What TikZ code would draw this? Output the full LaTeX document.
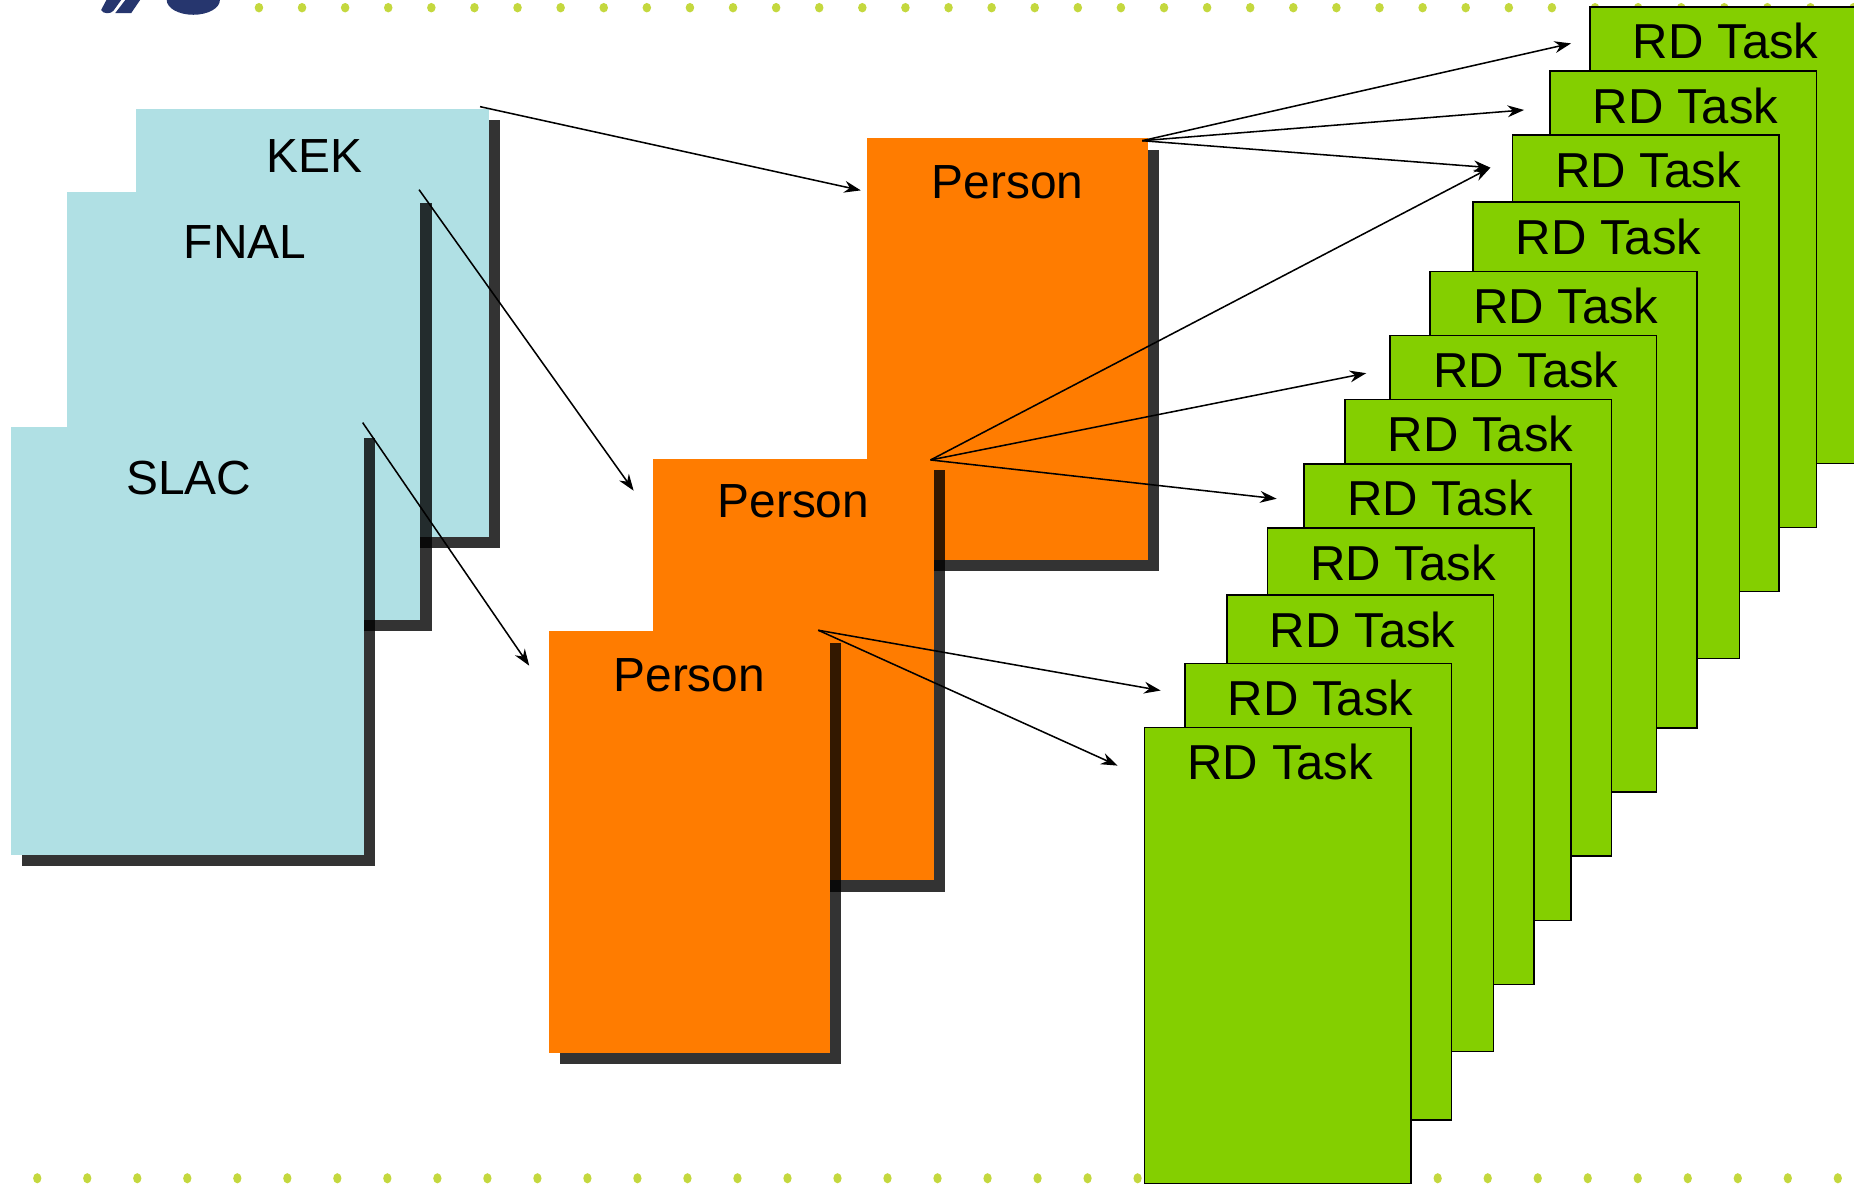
\documentclass[tikz,border=0pt]{standalone}
\usepackage{fontspec}
\setmainfont{Liberation Sans}
\usetikzlibrary{arrows.meta,shadows}
\definecolor{bluec}{RGB}{176,224,228}
\definecolor{orangec}{RGB}{255,124,0}
\definecolor{greenc}{RGB}{132,207,0}
\definecolor{dotc}{RGB}{196,216,62}
\definecolor{navyc}{RGB}{38,54,110}
\tikzset{
  basebox/.style={rectangle, inner sep=0pt, outer sep=0pt},
  shade box/.style={drop shadow={shadow xshift=9.5pt, shadow yshift=-9.5pt, fill=black, opacity=0.8}},
  sitebox/.style={basebox, fill=bluec, minimum width=298.5pt, minimum height=362pt, shade box},
  personbox/.style={basebox, fill=orangec, minimum width=238pt, minimum height=356.5pt, shade box},
  taskbox/.style={basebox, fill=greenc, draw=black, line width=1.3pt, minimum width=225.5pt, minimum height=386pt},
  lbl/.style={font=\fontsize{40.5}{44}\selectfont, inner sep=0pt, anchor=base},
  tasklbl/.style={font=\fontsize{41.5}{44}\selectfont, inner sep=0pt, anchor=base},
  arr/.style={line width=1.3pt, -{Stealth[length=14pt,width=10pt]}},
}
\begin{document}
\begin{tikzpicture}[x=1pt,y=-1pt]
\useasboundingbox (0,0) rectangle (1568,1001);
\clip (0,0) rectangle (1568,1001);
\fill[white] (0,0) rectangle (1568,1001);

% logo fragment
\fill[navyc] (90,0) -- (102.5,0) -- (96,9) .. controls (94,12) and (87,12) .. (85.5,8.5) -- cycle;
\fill[navyc] (106,0) -- (118.5,0) -- (111,11) -- (97.5,11) -- cycle;
\fill[navyc] (141,0) arc[start angle=180, end angle=360, x radius=22.5pt, y radius=12.5pt] -- cycle;

% dotted rules
\foreach \k in {0,...,37} \fill[dotc] (219+36.45*\k,6.5) ellipse[x radius=3.6pt, y radius=4pt];
\foreach \k in {0,...,36} \fill[dotc] (31.5+42.3*\k,996.5) ellipse[x radius=3.5pt, y radius=4.3pt];

% sites
\node[sitebox, anchor=north west] (kek) at (115,92) {};
\node[lbl] (kekt) at ([yshift=-54pt,xshift=1.5pt]kek.north) {KEK};
\node[sitebox, anchor=north west] (fnal) at (57,162) {};
\node[lbl] (fnalt) at ([yshift=-56.5pt,xshift=1pt]fnal.north) {FNAL};
\node[sitebox, anchor=north west] (slac) at (9.5,361) {};
\node[lbl] (slact) at ([yshift=-57pt,xshift=1pt]slac.north) {SLAC};

% persons
\node[personbox, anchor=north west] (p1) at (733,117) {};
\node[lbl] (p1t) at ([yshift=-50.5pt]p1.north) {Person};
\node[personbox, anchor=north west] (p2) at (552,388) {};
\node[lbl] (p2t) at ([yshift=-50pt]p2.north) {Person};
\node[personbox, anchor=north west] (p3) at (464,534) {};
\node[lbl] (p3t) at ([yshift=-50.5pt]p3.north) {Person};

% tasks
\foreach \i/\l/\t in {1/1344.7/5.8, 2/1310.7/60.2, 3/1279/114.3, 4/1245.7/171, 5/1209.5/229.8, 6/1175.6/283.8, 7/1137.4/338, 8/1103/392.3, 9/1072/446.6, 10/1037.7/503.3, 11/1002/561, 12/968/615.2}{
  \node[taskbox, anchor=north west] (g\i) at (\l,\t) {};
  \node[tasklbl] (g\i t) at ([yshift=-44pt,xshift=2pt]g\i.north) {RD Task};
}

% arrow end points
\coordinate (kekout) at (406,90.2);
\coordinate (fnalout) at (354.4,160.4);
\coordinate (slacout) at (306.7,357.4);
\coordinate (p1in) at (728,161);
\coordinate (p2in) at (535.9,415);
\coordinate (p3in) at (447.6,563);
\coordinate (p1out) at (966,119);
\coordinate (p2out) at (787,389);
\coordinate (p3out) at (692,533);
\coordinate (g1in) at (1328.7,36.7);
\coordinate (g2in) at (1289,93);
\coordinate (g3in) at (1260.5,141.8);
\coordinate (g6in) at (1155.5,315.6);
\coordinate (g8in) at (1079.7,421.8);
\coordinate (g11in) at (981.6,584);
\coordinate (g12in) at (945.2,647.5);

\draw[arr] (kekout) -- (p1in);
\draw[arr] (fnalout) -- (p2in);
\draw[arr] (slacout) -- (p3in);
\draw[arr] (p1out) -- (g1in);
\draw[arr] (p1out) -- (g2in);
\draw[arr] (p1out) -- (g3in);
\draw[arr] (p2out) -- (g3in);
\draw[arr] (p2out) -- (g6in);
\draw[arr] (p2out) -- (g8in);
\draw[arr] (p3out) -- (g11in);
\draw[arr] (p3out) -- (g12in);
\end{tikzpicture}
\end{document}
